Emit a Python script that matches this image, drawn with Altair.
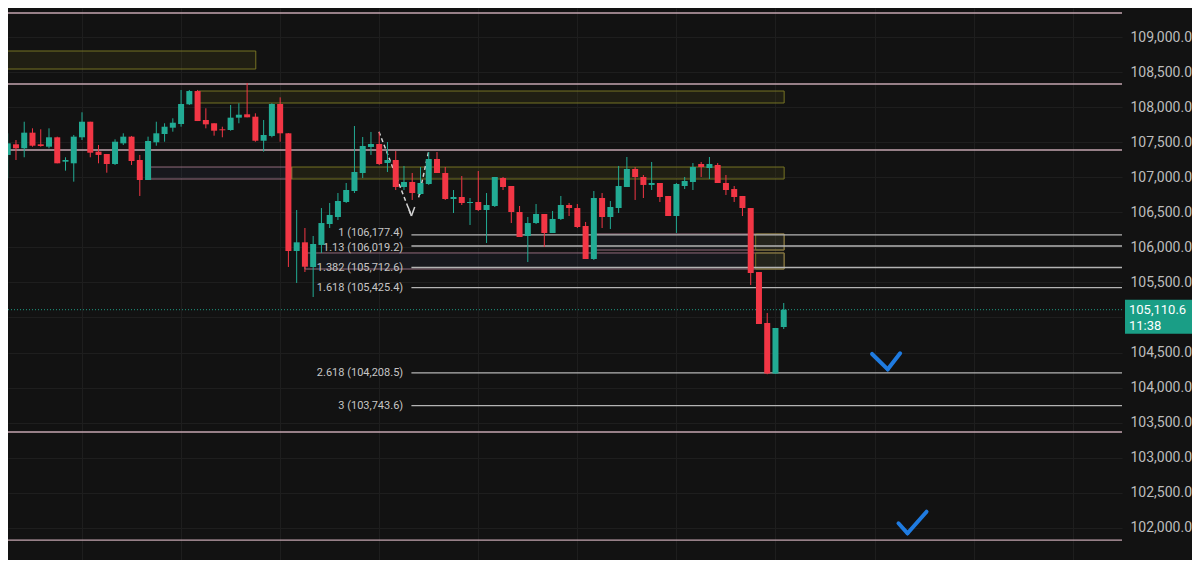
import altair as alt
import pandas as pd

# ---------------- data ----------------
opens = [107318, 107470, 107413, 107636, 107470, 107436, 107570, 107222, 107199, 107570,
         107792, 107365, 107332, 107189, 107484, 107579, 107246, 106961, 107499, 107617,
         107707, 107760, 108041, 108230, 107817, 107770, 107684, 107674, 107850, 107898,
         107864, 107521, 107589, 108045, 107627, 105948, 106072, 105720, 106034, 106333,
         106433, 106647, 106804, 107061, 107432, 107474, 107203, 107246, 106861, 106932,
         106761, 106904, 107260, 107061, 106690, 106718, 106633, 106647, 106533, 106590,
         106989, 106875, 106504, 106162, 106347, 106476, 106205, 106405, 106604, 106561,
         106305, 105834, 106704, 106433, 106561, 106861, 107118, 107004, 106890, 106918,
         106733, 106447, 106875, 106932, 107189, 107132, 107175, 106918, 106832, 106733,
         106561, 105648, 104921, 104200, 104864]
closes = [107484, 107413, 107636, 107450, 107446, 107570, 107199, 107246, 107579, 107792,
          107350, 107318, 107189, 107507, 107579, 107232, 106961, 107517, 107627, 107721,
          107778, 108045, 108230, 107802, 107755, 107664, 107670, 107850, 107892, 107855,
          107521, 107603, 108045, 107627, 105948, 106072, 105724, 106048, 106347, 106462,
          106661, 106818, 107075, 107446, 107474, 107189, 107246, 106861, 106932, 106775,
          106918, 107260, 107061, 106690, 106718, 106633, 106647, 106533, 106604, 107004,
          106861, 106504, 106148, 106347, 106476, 106205, 106405, 106604, 106561, 106290,
          105834, 106704, 106433, 106576, 106875, 107118, 107004, 106890, 106918, 106718,
          106447, 106904, 106947, 107146, 107146, 107189, 106918, 106818, 106718, 106561,
          105634, 104907, 104200, 104850, 105110.6]
highs = [107627, 107531, 107792, 107698, 107684, 107698, 107579, 107285, 107603, 107927,
         107792, 107460, 107332, 107541, 107627, 107589, 107318, 107579, 107792, 107770,
         107841, 108245, 108245, 108245, 107984, 107770, 107721, 108031, 108055, 108345,
         107912, 107817, 108055, 108140, 107631, 106533, 106276, 106162, 106561, 106633,
         106775, 106918, 107731, 107574, 107646, 107646, 107503, 107374, 107161, 107061,
         107146, 107360, 107360, 107146, 106818, 107018, 106704, 107089, 106775, 107004,
         107004, 106875, 106590, 106433, 106618, 106476, 106519, 106733, 106633, 106618,
         106362, 106804, 106775, 106661, 107161, 107289, 107146, 107032, 107218, 106918,
         106733, 106918, 107004, 107203, 107218, 107289, 107203, 107032, 106875, 106733,
         106561, 105648, 105064, 104850, 105206]
lows = [106985, 107246, 107285, 107436, 107436, 107413, 107199, 107094, 106937, 107531,
        107285, 107199, 107065, 107175, 107460, 107175, 106733, 106961, 107450, 107507,
        107650, 107721, 108031, 107802, 107698, 107593, 107570, 107664, 107770, 107855,
        107507, 107365, 107570, 107507, 105720, 105492, 105648, 105292, 105920, 106276,
        106390, 106633, 106775, 106989, 107318, 107175, 107075, 106818, 106818, 106676,
        106747, 106890, 107061, 106676, 106490, 106604, 106319, 106519, 106062, 106576,
        106818, 106347, 106148, 105791, 106333, 106005, 106205, 106390, 106447, 106276,
        105834, 105820, 106276, 106262, 106490, 106861, 106676, 106704, 106818, 106647,
        106447, 106205, 106832, 106818, 107004, 106975, 106918, 106747, 106647, 106447,
        105463, 104907, 104190, 104195, 104835]

# horizontal levels (pink)
level_prices = [109343, 108330, 107389, 103366, 101825]

# fibonacci extension
fib_labels = ["1 (106,177.4)", "1.13 (106,019.2)", "1.382 (105,712.6)",
              "1.618 (105,425.4)", "2.618 (104,208.5)", "3 (103,743.6)"]
fib_prices = [106177.4, 106019.2, 105712.6, 105425.4, 104208.5, 103743.6]
fib_from_bar = 48.9
fib_to_bar = 136
fib_label_bar = 47.9

# zones (bar index / price)
zone_kind = ["supply", "supply", "gap", "supply", "gap", "gap", "supply", "supply"]
zone_start = [-2, 23.1, 17.3, 34.4, 71.2, 36.0, 90.6, 90.6]
zone_end = [30.05, 94.05, 34.4, 94.05, 94.05, 94.05, 94.05, 94.05]
zone_top = [108801, 108230, 107146, 107146, 106191, 105920, 106191, 105920]
zone_bottom = [108544, 108059, 106975, 106975, 105962, 105691, 105962, 105691]

# hand drawings (bar index / price)
draw_kind = ["dash", "dash", "head", "head", "blue", "blue", "blue", "blue"]
draw_x1 = [44.97, 49.78, 48.5, 49.3, 104.7, 106.6, 107.9, 109.0]
draw_y1 = [107650, 106714, 106576, 106576, 104479, 104260, 102064, 101921]
draw_x2 = [48.9, 50.98, 48.9, 48.9, 106.6, 108.1, 109.0, 111.3]
draw_y2 = [106447, 107364, 106447, 106447, 104260, 104489, 101921, 102229]

last_price = 105110.6
last_price_text = "105,110.6"
countdown_text = "11:38"

price_ticks = list(range(101500, 110000, 500))
time_grid_bars = [9, 21, 33, 45, 57, 69, 81, 93, 105, 117, 129]

# ---------------- styling ----------------
BG = "#121212"
GRID = "#1e1e1e"
GREEN = "#22ab94"
RED = "#f23645"
PINK = "#c5a6b1"
FIB = "#b4b4b4"
W, H = 1114, 552

candles = pd.DataFrame({"bar": list(range(len(opens))), "open": opens, "high": highs,
                        "low": lows, "close": closes})
candles["dir"] = ["up" if c >= o else "down" for o, c in zip(opens, closes)]

zones = pd.DataFrame({"kind": zone_kind, "start": zone_start, "end": zone_end,
                      "top": zone_top, "bottom": zone_bottom})
levels = pd.DataFrame({"price": level_prices})
fibs = pd.DataFrame({"label": fib_labels, "price": fib_prices,
                     "from": [fib_from_bar] * len(fib_prices),
                     "to": [fib_to_bar] * len(fib_prices),
                     "lab": [fib_label_bar] * len(fib_prices)})
draws = pd.DataFrame({"kind": draw_kind, "x1": draw_x1, "y1": draw_y1,
                      "x2": draw_x2, "y2": draw_y2})
tag = pd.DataFrame({"price": [last_price], "t1": [last_price_text], "t2": [countdown_text]})

xs = alt.Scale(domain=[0.64, 134.37], nice=False, zero=False)
ys = alt.Scale(domain=[101540.1, 109414.4], nice=False, zero=False)

x_axis = alt.Axis(values=time_grid_bars, labels=False, ticks=False, domain=False,
                  grid=True, gridColor=GRID, gridWidth=1, title=None)
# the 105,000 label is hidden behind the last-price tag, as in the reference
y_axis = alt.Axis(orient="right", values=price_ticks, format=",.1f", labelFont="Roboto",
                  labelFontSize=14, labelColor="#bdbdbd", ticks=False, domain=False,
                  grid=True, gridColor=GRID, gridWidth=1, labelPadding=8,
                  labelOverlap=False, title=None,
                  labelExpr="datum.value == 105000 ? '' : datum.label")


def X(field):
    return alt.X(field, type="quantitative", scale=xs, axis=x_axis)


def Y(field):
    return alt.Y(field, type="quantitative", scale=ys, axis=y_axis)


zone_base = alt.Chart(zones)
gap_zones = zone_base.transform_filter(alt.datum.kind == "gap").mark_rect(
    clip=True, fill="#4c5a8e", fillOpacity=0.09, stroke="#a97a8e", strokeWidth=1,
    strokeOpacity=0.85).encode(x=X("start"), x2="end", y=Y("top"), y2="bottom")
supply_zones = zone_base.transform_filter(alt.datum.kind == "supply").mark_rect(
    clip=True, fill="#77741c", fillOpacity=0.14, stroke="#807c26", strokeWidth=1,
    strokeOpacity=0.9).encode(x=X("start"), x2="end", y=Y("top"), y2="bottom")

level_lines = alt.Chart(levels).mark_rule(color=PINK, strokeWidth=1.3, clip=True).encode(
    y=Y("price"))

fib_lines = alt.Chart(fibs).mark_rule(color=FIB, strokeWidth=1.3, clip=True).encode(
    x=X("from"), x2="to", y=Y("price"))


def fib_text_layer(labels, dy):
    return alt.Chart(fibs).transform_filter(
        alt.FieldOneOfPredicate(field="label", oneOf=labels)
    ).mark_text(align="right", baseline="middle", font="Roboto", fontSize=11,
                color="#c6c6c6", dy=dy, clip=True).encode(
        x=X("lab"), y=Y("price"), text="label:N")


fib_text_a = fib_text_layer([fib_labels[0]], -1.5)
fib_text_b = fib_text_layer([fib_labels[1]], 1.5)
fib_text_c = fib_text_layer(fib_labels[2:], 0)

price_line = alt.Chart(tag).mark_rule(color="#1f9c84", strokeWidth=1, strokeDash=[1, 2],
                                      clip=True).encode(y=Y("price"))

dash_draw = alt.Chart(draws).transform_filter(alt.datum.kind == "dash").mark_rule(
    color="#d4d4d4", strokeWidth=1.5, strokeDash=[4, 3], clip=True).encode(
    x=X("x1"), x2="x2", y=Y("y1"), y2="y2")
head_draw = alt.Chart(draws).transform_filter(alt.datum.kind == "head").mark_rule(
    color="#d4d4d4", strokeWidth=1.5, clip=True).encode(
    x=X("x1"), x2="x2", y=Y("y1"), y2="y2")
blue_draw = alt.Chart(draws).transform_filter(alt.datum.kind == "blue").mark_rule(
    color="#1f7be0", strokeWidth=4, strokeCap="round", clip=True).encode(
    x=X("x1"), x2="x2", y=Y("y1"), y2="y2")

color_enc = alt.Color("dir:N", scale=alt.Scale(domain=["up", "down"], range=[GREEN, RED]),
                      legend=None)
wicks = alt.Chart(candles).mark_rule(strokeWidth=1, clip=True).encode(
    x=X("bar"), y=Y("low"), y2="high", color=color_enc)
bodies = alt.Chart(candles).mark_bar(size=6, clip=True).encode(
    x=X("bar"), y=Y("open"), y2="close", color=color_enc)

tag_box = alt.Chart(tag).mark_rect(color="#1a9e86", yOffset=-10, y2Offset=24, clip=False).encode(
    x=alt.value(W + 3), x2=alt.value(W + 70), y=Y("price"), y2="price")
tag_t1 = alt.Chart(tag).mark_text(align="left", baseline="middle", font="Roboto",
                                  fontSize=13, color="#ffffff", clip=False).encode(
    x=alt.value(W + 7), y=Y("price"), text="t1:N")
tag_t2 = alt.Chart(tag).mark_text(align="left", baseline="middle", font="Roboto",
                                  fontSize=13, color="#ffffff", dy=16, clip=False).encode(
    x=alt.value(W + 7), y=Y("price"), text="t2:N")

chart = alt.layer(
    gap_zones, supply_zones, level_lines, fib_lines, fib_text_a, fib_text_b, fib_text_c,
    price_line, dash_draw, head_draw, blue_draw, wicks, bodies, tag_box, tag_t1, tag_t2
).properties(
    width=W, height=H,
    autosize=alt.AutoSizeParams(type="none"),
    padding={"left": 0, "top": 0, "right": 70, "bottom": 0},
    background=BG,
).configure_view(stroke=None)

chart.save("out.html", embed_options={"renderer": "svg", "actions": False})
